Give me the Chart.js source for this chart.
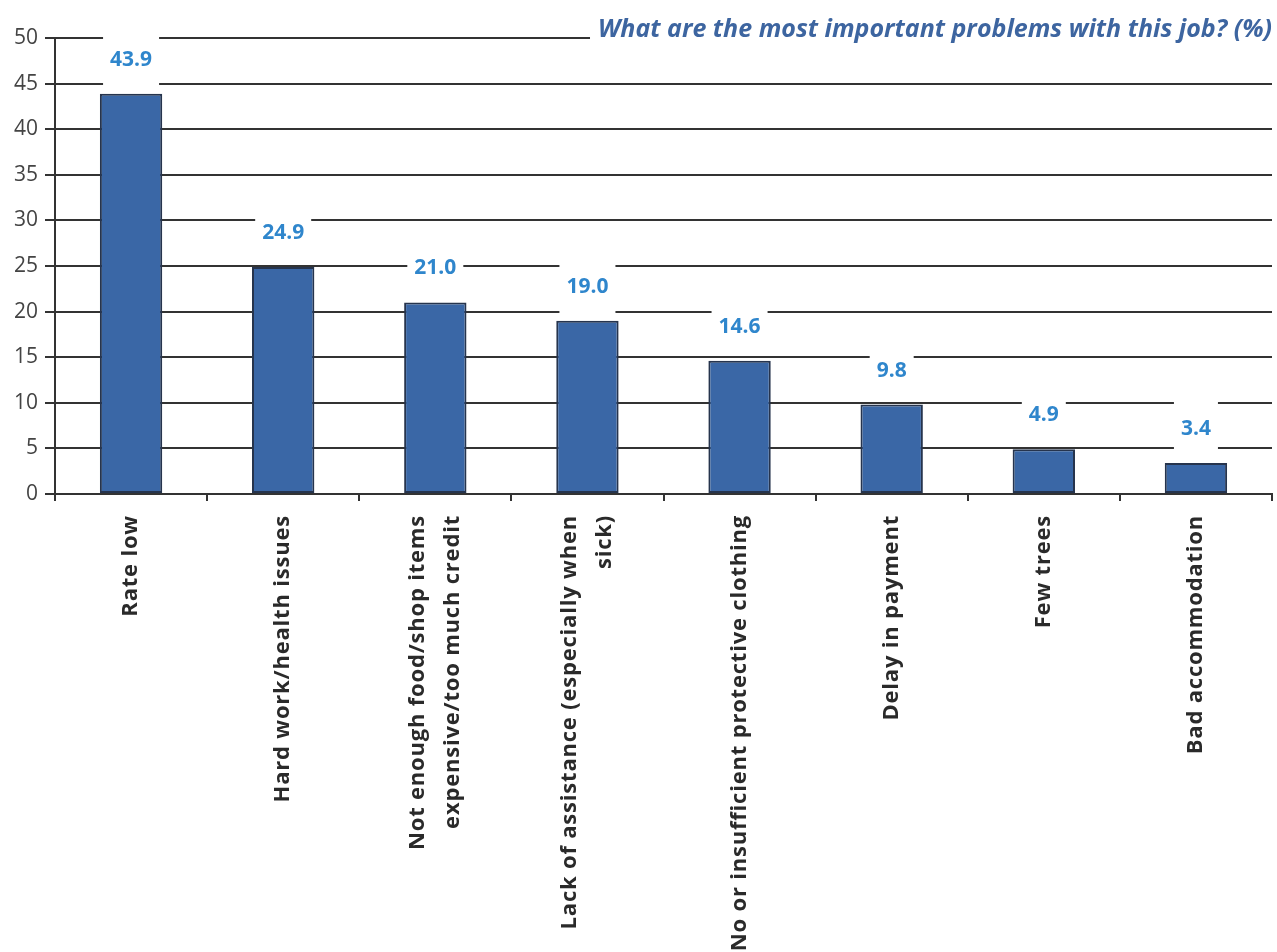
<!DOCTYPE html>
<html>
<head>
<meta charset="utf-8">
<script src="https://cdn.jsdelivr.net/npm/chart.js@4/dist/chart.umd.min.js"></script>
<style>
  html, body { margin: 0; padding: 0; background: #ffffff; }
  #wrap { width: 1277px; height: 952px; position: relative; }
</style>
</head>
<body>
<div id="wrap"><canvas id="chart" width="1277" height="952"></canvas></div>
<script>
// Survey answers: most important problems with the job (% of respondents)
const categories = [
  ["Rate low"],
  ["Hard work/health issues"],
  ["Not enough food/shop items", "expensive/too much credit"],
  ["Lack of assistance (especially when", "sick)"],
  ["No or insufficient protective clothing"],
  ["Delay in payment"],
  ["Few trees"],
  ["Bad accommodation"]
];
const percentages = [43.9, 24.9, 21.0, 19.0, 14.6, 9.8, 4.9, 3.4];
const yTicks = [0, 5, 10, 15, 20, 25, 30, 35, 40, 45, 50];
const chartTitle = "What are the most important problems with this job? (%)";

const LINE = '#333333';
const BAR_FILL = '#3a67a6';
const BAR_EDGE = '#26344d';
const VALUE_BLUE = '#2f86cc';
const TITLE_BLUE = '#3d65a0';
const FONT = '"Open Sans", Lato, "DejaVu Sans", sans-serif';

// Rotated, multi-line category names centred on each bar slot
const categoryLabels = {
  id: 'categoryLabels',
  afterDraw(chart) {
    const ctx = chart.ctx;
    const xs = chart.scales.x;
    const top = chart.chartArea.bottom + 21;
    const lineGap = 35;
    ctx.save();
    ctx.fillStyle = '#2a2a2a';
    ctx.font = 'bold 22px ' + FONT;
    ctx.letterSpacing = '0.8px';
    ctx.textAlign = 'right';
    ctx.textBaseline = 'middle';
    categories.forEach((lines, i) => {
      const x = xs.getPixelForValue(i);
      ctx.save();
      ctx.translate(x, top);
      ctx.rotate(-Math.PI / 2);
      lines.forEach((txt, j) => {
        ctx.fillText(txt, 0, (j - (lines.length - 1) / 2) * lineGap);
      });
      ctx.restore();
    });
    ctx.restore();
  }
};

// Value labels above bars, on a white patch that hides the grid lines
const valueLabels = {
  id: 'valueLabels',
  afterDraw(chart) {
    const ctx = chart.ctx;
    const meta = chart.getDatasetMeta(0);
    ctx.save();
    ctx.font = 'bold 21px ' + FONT;
    ctx.textAlign = 'center';
    ctx.textBaseline = 'middle';
    meta.data.forEach((bar, i) => {
      const txt = percentages[i].toFixed(1);
      const w = ctx.measureText(txt).width;
      const cy = bar.y - 34;
      ctx.fillStyle = '#ffffff';
      ctx.fillRect(bar.x - w / 2 - 7, cy - 27, w + 14, 54);
      ctx.fillStyle = VALUE_BLUE;
      ctx.fillText(txt, bar.x, cy);
    });
    ctx.restore();
  }
};

// Title in the top-right corner, over the top grid line
const cornerTitle = {
  id: 'cornerTitle',
  afterDraw(chart) {
    const ctx = chart.ctx;
    ctx.save();
    ctx.font = 'italic bold 25px ' + FONT;
    const w = ctx.measureText(chartTitle).width;
    const right = chart.width - 5;
    ctx.fillStyle = '#ffffff';
    ctx.fillRect(right - w - 8, 12, w + 13, 36);
    ctx.fillStyle = TITLE_BLUE;
    ctx.textAlign = 'right';
    ctx.textBaseline = 'middle';
    ctx.fillText(chartTitle, right, 30);
    ctx.restore();
  }
};

new Chart(document.getElementById('chart'), {
  type: 'bar',
  data: {
    labels: categories,
    datasets: [{
      data: percentages,
      backgroundColor: BAR_FILL,
      borderColor: BAR_EDGE,
      borderWidth: 2,
      borderSkipped: false,
      barPercentage: 0.41,
      categoryPercentage: 1.0
    }]
  },
  options: {
    responsive: false,
    animation: false,
    devicePixelRatio: 1,
    layout: { padding: { top: 38, right: 5, left: 0, bottom: 0 } },
    plugins: {
      legend: { display: false },
      tooltip: { enabled: false },
      title: { display: false }
    },
    scales: {
      x: {
        offset: true,
        grid: {
          display: true,
          offset: true,
          drawOnChartArea: false,
          drawTicks: true,
          tickLength: 7,
          color: LINE,
          lineWidth: 2
        },
        border: { display: true, color: LINE, width: 2 },
        ticks: { display: false },
        afterFit(scale) { scale.height = 952 - 494; }
      },
      y: {
        min: 0,
        max: 50,
        afterBuildTicks(scale) { scale.ticks = yTicks.map(v => ({ value: v })); },
        grid: {
          color: LINE,
          lineWidth: 2,
          drawTicks: true,
          tickLength: 10
        },
        border: { display: true, color: LINE, width: 2 },
        ticks: {
          color: '#444444',
          padding: 7,
          font: { family: FONT, size: 21 }
        },
        afterFit(scale) { scale.width = 55; }
      }
    }
  },
  plugins: [valueLabels, categoryLabels, cornerTitle]
});
</script>
</body>
</html>
